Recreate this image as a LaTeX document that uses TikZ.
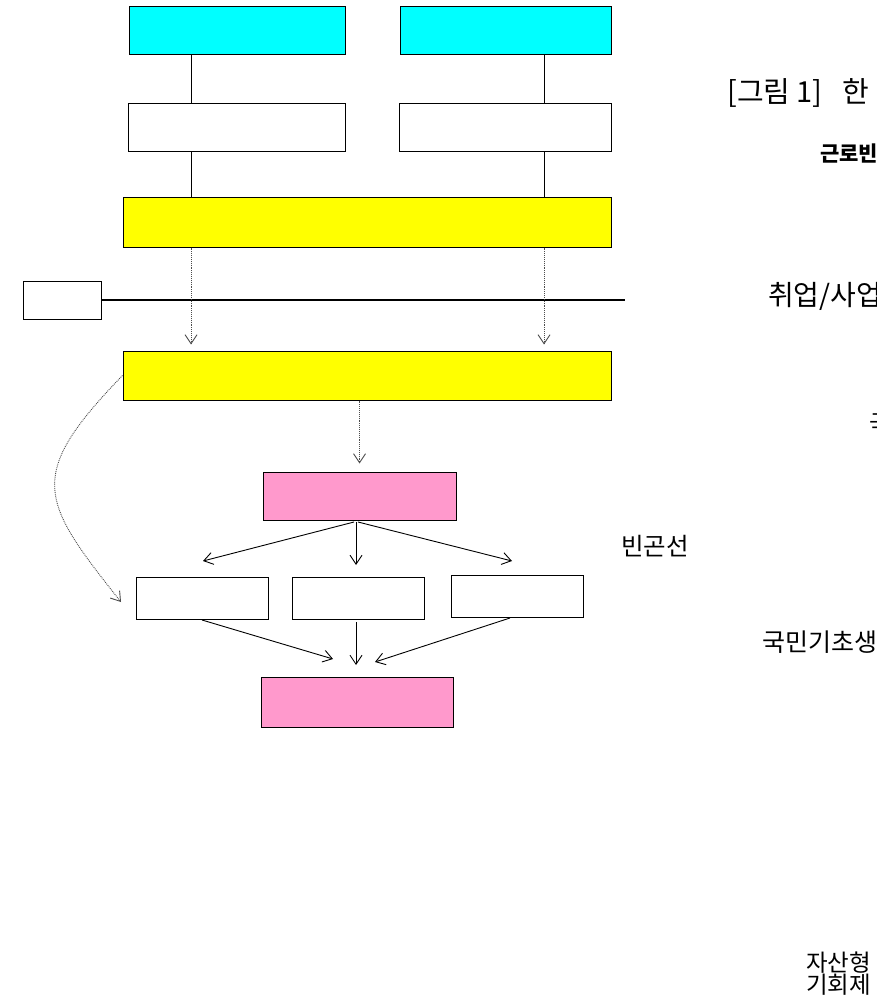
\documentclass[tikz,border=0pt]{standalone}
\usepackage{fontspec}
\newfontfamily\kr{Noto Sans CJK KR}
\usetikzlibrary{arrows.meta}
\definecolor{boxcyan}{HTML}{00FFFF}
\definecolor{boxyellow}{HTML}{FFFF00}
\definecolor{boxpink}{HTML}{FF99CC}
\tikzset{
  box/.style={draw=black, line width=1pt, inner sep=0pt},
  conn/.style={draw=black, line width=0.9pt},
  dotconn/.style={draw=black!70, line width=0.9pt, densely dotted, -{Straight Barb[length=9pt,width=12pt]}},
  arr/.style={draw=black, line width=0.9pt, -{Straight Barb[length=9pt,width=12pt]}},
  lbl/.style={anchor=west, inner sep=0pt, font=\kr}
}
\begin{document}
\begin{tikzpicture}[x=1pt,y=-1pt]
\useasboundingbox (0,0) rectangle (877,1000);
% top boxes
\node[box, fill=boxcyan, minimum width=216pt, minimum height=48pt] (c1) at (237,31) {};
\node[box, fill=boxcyan, minimum width=211pt, minimum height=48pt] (c2) at (505.5,31) {};
\node[box, fill=white, minimum width=217pt, minimum height=48pt] (w1) at (236.5,128) {};
\node[box, fill=white, minimum width=212pt, minimum height=48pt] (w2) at (505,128) {};
\node[box, fill=boxyellow, minimum width=488pt, minimum height=49pt] (y1) at (367,222.5) {};
\node[box, fill=white, minimum width=78pt, minimum height=38pt] (sm) at (62,300) {};
\node[box, fill=boxyellow, minimum width=488pt, minimum height=49pt] (y2) at (367,375.5) {};
\node[box, fill=boxpink, minimum width=193pt, minimum height=48pt] (p1) at (359.5,496) {};
\node[box, fill=white, minimum width=132pt, minimum height=42pt] (bA) at (202,598) {};
\node[box, fill=white, minimum width=132pt, minimum height=42pt] (bB) at (358,598) {};
\node[box, fill=white, minimum width=132pt, minimum height=42pt] (bC) at (517,596) {};
\node[box, fill=boxpink, minimum width=192pt, minimum height=50pt] (p2) at (357,702) {};
% helper coordinates
\coordinate (L) at (191,0);
\coordinate (R) at (544,0);
\coordinate (lineEnd) at (625,300);
\coordinate (tA) at (203,561);
\coordinate (tB) at (356,565);
\coordinate (tC) at (512,561);
\coordinate (sA) at (354,522);
\coordinate (sB) at (356,522);
\coordinate (sC) at (358,522);
\coordinate (uA) at (202,620);
\coordinate (uB) at (356,622);
\coordinate (uC) at (510,618);
\coordinate (vA) at (333,659);
\coordinate (vB) at (356,665);
\coordinate (vC) at (375,662);
\coordinate (cEnd) at (121,602);
% connectors
\draw[conn] (c1.south -| L) -- (w1.north -| L);
\draw[conn] (w1.south -| L) -- (y1.north -| L);
\draw[conn] (c2.south -| R) -- (w2.north -| R);
\draw[conn] (w2.south -| R) -- (y1.north -| R);
\draw[draw=black, line width=2.6pt] (sm.east) -- (lineEnd);
\draw[dotconn, shorten >=6pt] (y1.south -| L) -- (y2.north -| L);
\draw[dotconn, shorten >=6pt] (y1.south -| R) -- (y2.north -| R);
\draw[dotconn, shorten >=8pt] (y2.south -| p1.north) -- (p1.north);
\draw[arr] (sA) -- (tA);
\draw[arr] (sB) -- (tB);
\draw[arr] (sC) -- (tC);
\draw[arr] (uA) -- (vA);
\draw[arr] (uB) -- (vB);
\draw[arr] (uC) -- (vC);
\draw[dotconn] (y2.west) .. controls (25,476) and (40,500) .. (cEnd);
% right-hand texts (clipped at page edge as in the reference)
\node[lbl, font=\kr\fontsize{29}{34}\selectfont] (t1) at (727,93) {[그림 1]\hspace{20pt}한};
\node[lbl, font=\kr\bfseries\fontsize{21}{25}\selectfont] (t2) at (820,154) {근로빈};
\node[lbl, font=\kr\fontsize{28}{33}\selectfont] (t3) at (768,296) {취업/사업};
\node[lbl, font=\kr\fontsize{24}{28}\selectfont] (t4) at (869,424) {국};
\node[lbl, font=\kr\fontsize{24.5}{29}\selectfont] (t5) at (621,546) {빈곤선};
\node[lbl, font=\kr\fontsize{25}{30}\selectfont] (t6) at (762,642) {국민기초생};
\node[lbl, font=\kr\fontsize{23.5}{22}\selectfont, align=left] (t7) at (806,974) {자산형\\기회제};
\end{tikzpicture}
\end{document}
